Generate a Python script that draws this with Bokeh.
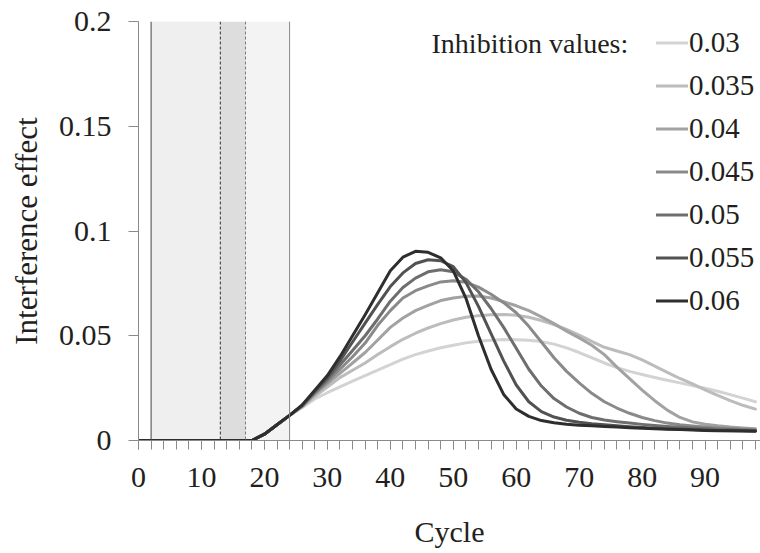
from bokeh.plotting import figure
from bokeh.models import Legend, LegendItem, Label, Span, SingleIntervalTicker, FixedTicker, Range1d
from bokeh.embed import file_html
from bokeh.resources import INLINE

# ---------------- data ----------------
cycles = list(range(0, 100, 2))
pre = [0.0] * 10  # cycles 0..18

inhibition_labels = ["0.03", "0.035", "0.04", "0.045", "0.05", "0.055", "0.06"]

s_030 = pre + [0.003, 0.0075, 0.012, 0.0158, 0.0198, 0.0228, 0.0256, 0.0283, 0.031, 0.0336,
               0.0362, 0.0388, 0.041, 0.0427, 0.0443, 0.0455, 0.0466, 0.0474, 0.0479, 0.0482,
               0.0481, 0.0478, 0.0472, 0.046, 0.0442, 0.042, 0.0395, 0.037, 0.0348, 0.033,
               0.0315, 0.0301, 0.0288, 0.0275, 0.0262, 0.0249, 0.0235, 0.0219, 0.0202, 0.0185]
s_035 = pre + [0.003, 0.0075, 0.012, 0.016, 0.021, 0.0255, 0.030, 0.0335, 0.037, 0.041,
               0.0448, 0.0483, 0.0512, 0.0537, 0.0558, 0.0575, 0.0588, 0.0596, 0.060, 0.0602,
               0.0598, 0.0588, 0.0573, 0.0553, 0.053, 0.0503, 0.0473, 0.0445, 0.0427, 0.041,
               0.0385, 0.0355, 0.0325, 0.0296, 0.027, 0.0242, 0.0215, 0.019, 0.0168, 0.015]
s_040 = pre + [0.003, 0.0075, 0.012, 0.0163, 0.022, 0.027, 0.032, 0.037, 0.042, 0.048,
               0.054, 0.0585, 0.062, 0.0645, 0.0668, 0.068, 0.0688, 0.069, 0.068, 0.0663,
               0.0643, 0.062, 0.059, 0.0558, 0.0522, 0.049, 0.0455, 0.041, 0.035, 0.0295,
               0.024, 0.019, 0.0145, 0.011, 0.0089, 0.0078, 0.007, 0.0064, 0.006, 0.0056]
s_045 = pre + [0.003, 0.0075, 0.012, 0.0165, 0.0225, 0.028, 0.034, 0.040, 0.0465, 0.055,
               0.062, 0.068, 0.0715, 0.0738, 0.0757, 0.0762, 0.0755, 0.0732, 0.0698, 0.0658,
               0.061, 0.0545, 0.047, 0.0395, 0.033, 0.0275, 0.0225, 0.0185, 0.0155, 0.013,
               0.011, 0.0095, 0.0083, 0.0075, 0.0069, 0.0064, 0.006, 0.0057, 0.0054, 0.0051]
s_050 = pre + [0.003, 0.0075, 0.012, 0.0166, 0.023, 0.029, 0.036, 0.043, 0.050, 0.058,
               0.0665, 0.073, 0.0775, 0.0805, 0.0815, 0.0805, 0.077, 0.071, 0.063, 0.054,
               0.044, 0.034, 0.026, 0.020, 0.016, 0.013, 0.011, 0.0098, 0.009, 0.0083,
               0.0077, 0.0072, 0.0067, 0.0063, 0.006, 0.0057, 0.0054, 0.0052, 0.005, 0.0048]
s_055 = pre + [0.003, 0.0075, 0.012, 0.0168, 0.0235, 0.030, 0.038, 0.047, 0.056, 0.065,
               0.0735, 0.080, 0.0845, 0.0863, 0.0858, 0.083, 0.0755, 0.064, 0.051, 0.038,
               0.0265, 0.0185, 0.0138, 0.0112, 0.0097, 0.0087, 0.008, 0.0075, 0.007, 0.0066,
               0.0062, 0.0059, 0.0056, 0.0054, 0.0052, 0.005, 0.0048, 0.0047, 0.0046, 0.0045]
s_060 = pre + [0.003, 0.0075, 0.012, 0.017, 0.024, 0.031, 0.040, 0.050, 0.060, 0.0705,
               0.081, 0.0875, 0.0903, 0.0898, 0.0872, 0.081, 0.068, 0.050, 0.034, 0.022,
               0.015, 0.0115, 0.0095, 0.0085, 0.0078, 0.0073, 0.007, 0.0067, 0.0064, 0.0061,
               0.0058, 0.0056, 0.0054, 0.0052, 0.005, 0.0048, 0.0047, 0.0046, 0.0045, 0.0044]
series = [s_030, s_035, s_040, s_045, s_050, s_055, s_060]

band_left = [2, 13, 17]
band_right = [13, 17, 24]
band_colors = ["#efefef", "#dddddd", "#f3f3f3"]
vline_pos = [2, 13, 17, 24]
vline_colors = ["#444444", "#333333", "#777777", "#888888"]
vline_dash = ["solid", "3 2", "3 2", "solid"]

y_ticks = [0, 0.05, 0.1, 0.15, 0.2]
y_tick_labels = ["0", "0.05", "0.1", "0.15", "0.2"]

line_colors = ["#d3d3d3", "#bcbcbc", "#a2a2a2", "#8a8a8a", "#6e6e6e", "#525252", "#2e2e2e"]

FONT = "Liberation Serif"
TXT = "#231f20"

# ---------------- figure ----------------
p = figure(width=760, height=553, output_backend="svg", toolbar_location=None,
           x_range=Range1d(0, 98.8), y_range=Range1d(0, 0.2),
           min_border_left=138, min_border_right=0, min_border_top=21, min_border_bottom=113)
p.outline_line_color = None
p.grid.visible = False
p.background_fill_color = "white"
p.border_fill_color = "white"

p.quad(left=band_left, right=band_right, bottom=y_ticks[0], top=y_ticks[-1],
       fill_color=band_colors, line_color=None)
for xv, c, d in zip(vline_pos, vline_colors, vline_dash):
    p.add_layout(Span(location=xv, dimension="height", line_color=c, line_width=1, line_dash=d))

renderers = []
for ys, c in zip(series, line_colors):
    r = p.line(cycles, ys, line_color=c, line_width=3, line_join="round", line_cap="round")
    renderers.append(r)

# axes
xa = p.xaxis[0]
xa.ticker = SingleIntervalTicker(interval=10, num_minor_ticks=5)
xa.axis_label = "Cycle"
ya = p.yaxis[0]
ya.ticker = FixedTicker(ticks=y_ticks)
ya.major_label_overrides = {t: l for t, l in zip(y_ticks, y_tick_labels)}
ya.axis_label = "Interference effect"

for ax in (xa, ya):
    ax.axis_line_color = "#8a8a8a"
    ax.major_tick_line_color = "#8a8a8a"
    ax.minor_tick_line_color = "#8a8a8a"
    ax.major_label_text_font = FONT
    ax.major_label_text_color = TXT
    ax.major_label_text_font_size = "30px"
    ax.axis_label_text_font = FONT
    ax.axis_label_text_color = TXT
    ax.axis_label_text_font_style = "normal"
    ax.major_tick_in = 0

xa.major_tick_out = 9
xa.minor_tick_out = 9
xa.minor_tick_in = 0
xa.major_label_standoff = 18
xa.axis_label_text_font_size = "30px"
xa.axis_label_standoff = 25
ya.major_tick_out = 10
ya.minor_tick_line_color = None
ya.major_label_standoff = 17
ya.axis_label_text_font_size = "31px"
ya.axis_label_standoff = 12

legend = Legend(items=[LegendItem(label=l, renderers=[r]) for l, r in zip(inhibition_labels, renderers)],
                location=(518, 118), orientation="vertical")
legend.background_fill_alpha = 0
legend.border_line_color = None
legend.padding = 0
legend.margin = 0
legend.spacing = 0
legend.glyph_width = 32
legend.glyph_height = 43
legend.label_height = 43
legend.label_standoff = 1
legend.label_text_font = FONT
legend.label_text_font_size = "29px"
legend.label_text_color = TXT
legend.label_text_baseline = "middle"
p.add_layout(legend)

p.add_layout(Label(x=77.8, y=0.1895, text="Inhibition values:", text_align="right",
                   text_baseline="middle", text_font=FONT, text_font_size="28px", text_color=TXT))

open("out.html", "w").write(file_html(p, INLINE))
